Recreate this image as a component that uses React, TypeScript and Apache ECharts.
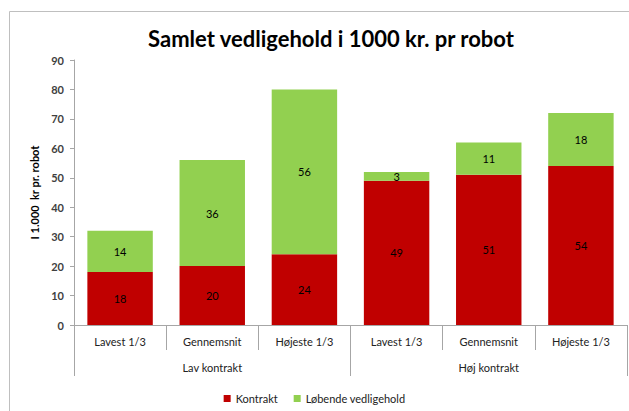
import React, { useEffect, useRef } from "react";
import * as echarts from "echarts";

const categories = ["Lavest 1/3", "Gennemsnit", "Højeste 1/3", "Lavest 1/3", "Gennemsnit", "Højeste 1/3"];
const groups = ["Lav kontrakt", "Høj kontrakt"];
const kontrakt = [18, 20, 24, 49, 51, 54];
const lobende = [14, 36, 56, 3, 11, 18];
const totals = [32, 56, 80, 52, 62, 72];
const yTicks = { min: 0, max: 90, interval: 10 };

const FONT = "Lato";

export default function App() {
  const ref = useRef<HTMLDivElement>(null);
  useEffect(() => {
    if (!ref.current) return;
    const chart = echarts.init(ref.current, undefined, { renderer: "svg" });
    const axisGray = "#a6a6a6";
    chart.setOption({
      animation: false,
      textStyle: { fontFamily: FONT },
      title: {
        text: "Samlet vedligehold i 1000 kr. pr robot",
        left: 326,
        textAlign: "center",
        top: 22,
        textStyle: { fontFamily: FONT, fontSize: 22, fontWeight: "bold", color: "#000" },
      },
      legend: {
        bottom: 2,
        left: "center",
        icon: "rect",
        itemWidth: 7,
        itemHeight: 7,
        itemGap: 16,
        textStyle: { fontFamily: FONT, fontSize: 11, color: "#222" },
        data: ["Kontrakt", "Løbende vedligehold"],
      },
      grid: { left: 74, right: 2, top: 60, bottom: 86, containLabel: false },
      xAxis: [
        {
          type: "category",
          data: categories,
          position: "bottom",
          axisLine: { lineStyle: { color: axisGray } },
          axisTick: { show: true, length: 25, lineStyle: { color: axisGray } },
          axisLabel: { margin: 11, fontFamily: FONT, fontSize: 11, color: "#222" },
        },
        {
          type: "category",
          data: groups,
          position: "bottom",
          offset: 25,
          axisLine: { show: false },
          axisTick: { show: true, length: 26, lineStyle: { color: axisGray } },
          axisLabel: { margin: 12, fontFamily: FONT, fontSize: 11, color: "#222" },
        },
      ],
      yAxis: {
        type: "value",
        min: yTicks.min,
        max: yTicks.max,
        interval: yTicks.interval,
        name: "I 1.000  kr pr. robot",
        nameLocation: "middle",
        nameGap: 29,
        nameTextStyle: { fontFamily: FONT, fontSize: 11, fontWeight: "bold", color: "#000" },
        axisLine: { show: true, lineStyle: { color: axisGray } },
        axisTick: { show: true, length: 4, lineStyle: { color: axisGray } },
        axisLabel: { margin: 10, fontFamily: FONT, fontSize: 11, fontWeight: "bold", color: "#404040" },
        splitLine: { show: false },
      },
      series: [
        {
          name: "Kontrakt",
          type: "bar",
          stack: "total",
          data: kontrakt,
          barCategoryGap: "29%",
          itemStyle: { color: "#C00000" },
          label: { show: true, position: "inside", color: "#000", fontSize: 11, fontFamily: FONT },
        },
        {
          name: "Løbende vedligehold",
          type: "bar",
          stack: "total",
          data: lobende,
          itemStyle: { color: "#92D050" },
          label: { show: true, position: "inside", color: "#000", fontSize: 11, fontFamily: FONT },
        },
        {
          name: "Total",
          type: "line",
          data: totals,
          symbol: "none",
          lineStyle: { opacity: 0 },
          label: { show: true, position: "top", distance: 17, color: "#222", fontSize: 13, fontFamily: FONT },
          tooltip: { show: false },
        },
      ],
      graphic: [
        { type: "line", shape: { x1: 9.5, y1: 11.5, x2: 629, y2: 11.5 }, style: { stroke: "#bfbfbf", lineWidth: 1 } },
        { type: "line", shape: { x1: 9.5, y1: 11.5, x2: 9.5, y2: 411 }, style: { stroke: "#bfbfbf", lineWidth: 1 } },
      ],
    });
    return () => chart.dispose();
  }, []);
  return (
    <div
      ref={ref}
      style={{ position: "absolute", left: 0, top: 0, width: 629, height: 411, background: "#fff" }}
    />
  );
}
